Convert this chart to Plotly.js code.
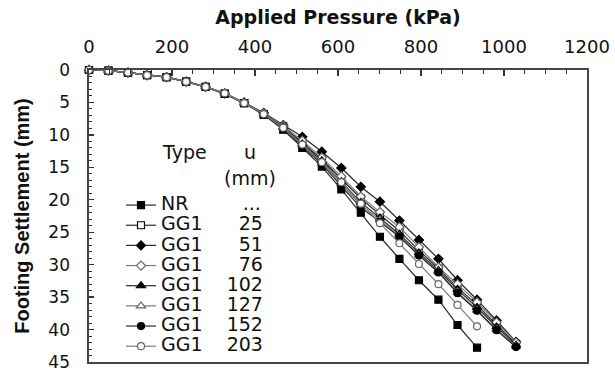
<!DOCTYPE html>
<html>
<head>
<meta charset="utf-8">
<script src="https://cdn.plot.ly/plotly-3.0.1.min.js"></script>
<style>
html,body{margin:0;padding:0;background:#fff;}
#chart{width:615px;height:368px;}
</style>
</head>
<body>
<div id="chart"></div>
<script>
// Applied pressure at each load step (kPa)
var pressure = [0, 47, 94, 140, 187, 234, 281, 327, 374, 421, 468, 514, 561, 608, 655, 701, 748, 795, 842, 888, 935, 982, 1029];

// Footing settlement (mm)
var NR      = [0, 0.1, 0.4, 0.8, 1.1, 1.8, 2.6, 3.7, 5.1, 6.9, 9.2, 12.0, 14.9, 18.4, 22.0, 25.7, 29.1, 32.4, 35.4, 39.3, 42.8];
var GG1_25  = [0, 0.1, 0.4, 0.8, 1.1, 1.8, 2.6, 3.6, 5.1, 6.8, 8.7, 11.2, 13.8, 16.8, 19.8, 22.3, 24.8, 27.8, 30.6, 33.5, 36.2, 39.3, 42.2];
var GG1_51  = [0, 0.1, 0.4, 0.8, 1.1, 1.8, 2.6, 3.6, 5.0, 6.6, 8.5, 10.3, 12.6, 15.1, 18.0, 20.3, 23.2, 26.2, 29.1, 32.4, 35.4, 38.6, 41.9];
var GG1_76  = [0, 0.1, 0.4, 0.8, 1.1, 1.8, 2.6, 3.6, 5.0, 6.7, 8.6, 10.9, 13.5, 16.4, 19.5, 21.9, 24.2, 27.3, 30.4, 33.0, 35.8, 38.9, 42.0];
var GG1_102 = [0, 0.1, 0.4, 0.8, 1.1, 1.8, 2.6, 3.6, 5.1, 6.8, 8.8, 11.4, 14.0, 17.2, 20.4, 22.8, 25.3, 28.2, 30.9, 33.8, 36.6, 39.6, 42.4];
var GG1_127 = [0, 0.1, 0.4, 0.8, 1.1, 1.8, 2.6, 3.6, 5.1, 6.8, 8.9, 11.6, 14.3, 17.6, 20.8, 23.1, 25.6, 28.5, 31.1, 34.2, 37.0, 40.0, 42.6];
var GG1_152 = [0, 0.1, 0.4, 0.8, 1.1, 1.8, 2.6, 3.7, 5.1, 6.9, 8.9, 11.8, 14.5, 17.9, 21.2, 23.4, 25.7, 28.6, 31.2, 34.4, 37.1, 40.1, 42.7];
var GG1_203 = [0, 0.1, 0.4, 0.8, 1.1, 1.8, 2.6, 3.6, 5.1, 6.8, 8.9, 11.5, 14.2, 17.3, 20.6, 23.6, 26.7, 29.9, 33.0, 36.2, 39.5];

// Legend labels: type and top-layer spacing u (mm)
var seriesType = ["NR", "GG1", "GG1", "GG1", "GG1", "GG1", "GG1", "GG1"];
var seriesU    = ["...", "25", "51", "76", "102", "127", "152", "203"];

var seriesY = [NR, GG1_25, GG1_51, GG1_76, GG1_102, GG1_127, GG1_152, GG1_203];
var symbols = ["square", "square", "diamond", "diamond", "triangle-up", "triangle-up", "circle", "circle"];
var filled  = [true, false, true, false, true, false, true, false];

var NB = "\u00a0";
function pad(n){ var s=""; for(var i=0;i<n;i++) s+=NB; return s; }
function label(t, u){
  var gap;
  if (t === "NR") gap = pad(9);
  else if (u.length === 2) gap = pad(6);
  else gap = pad(4);
  return '<span style="font-size:19px">' + t + gap + u + '</span>';
}

var traces = seriesY.map(function(y, i){
  var dark = filled[i] || i === 1;
  return {
    x: pressure.slice(0, y.length),
    y: y,
    type: "scatter",
    mode: "lines+markers",
    name: label(seriesType[i], seriesU[i]),
    cliponaxis: false,
    line: {color: dark ? "#2a2a2a" : "#7a7a7a", width: 1.2},
    marker: {
      symbol: symbols[i],
      size: symbols[i] === "triangle-up" ? 8 : 7,
      color: filled[i] ? "#000" : "#fff",
      line: {color: filled[i] ? "#000" : (i === 1 ? "#000" : "#666"), width: 1.2}
    }
  };
});

var W = 615, H = 368, mL = 89, mR = 28, mT = 70, mB = 6;
var pw = W - mL - mR, ph = H - mT - mB;
function px(xp){ return (xp - mL) / pw; }
function py(yp){ return 1 - (yp - mT) / ph; }

var txtFont = {family: "DejaVu Sans", size: 19, color: "#111"};

var layout = {
  width: W, height: H,
  margin: {l: mL, r: mR, t: mT, b: mB},
  paper_bgcolor: "#fff",
  plot_bgcolor: "#fff",
  showlegend: true,
  legend: {
    x: px(121), y: py(190), xanchor: "left", yanchor: "top",
    bgcolor: "rgba(0,0,0,0)",
    font: {family: "DejaVu Sans", size: 13.2, color: "#111"},
    traceorder: "normal",
    itemclick: false
  },
  xaxis: {
    side: "top",
    range: [0, 1200],
    dtick: 200,
    tick0: 0,
    ticks: "inside",
    ticklen: 6,
    tickwidth: 1.3,
    tickcolor: "#333",
    minor: {dtick: 50, ticks: "inside", ticklen: 4, tickwidth: 1, tickcolor: "#333"},
    showline: true,
    linecolor: "#444",
    linewidth: 1.6,
    mirror: true,
    showgrid: false,
    zeroline: false,
    ticklabelstandoff: 8,
    ticklabeloverflow: "allow",
    tickfont: {family: "DejaVu Sans", size: 18, color: "#111"},
    title: {text: "Applied Pressure (kPa)", standoff: 6,
            font: {family: "DejaVu Sans", size: 19, color: "#111", weight: "bold"}}
  },
  yaxis: {
    range: [45, 0],
    dtick: 5,
    tick0: 0,
    ticks: "inside",
    ticklen: 5,
    tickwidth: 1.3,
    tickcolor: "#333",
    minor: {dtick: 1, ticks: "inside", ticklen: 3, tickwidth: 1, tickcolor: "#333"},
    showline: true,
    linecolor: "#444",
    linewidth: 1.6,
    mirror: true,
    showgrid: false,
    zeroline: false,
    ticklabelstandoff: 14,
    ticklabeloverflow: "allow",
    tickfont: {family: "DejaVu Sans", size: 17, color: "#111"},
    title: {text: "Footing Settlement (mm)", standoff: 13,
            font: {family: "Liberation Sans", size: 20, color: "#111", weight: "bold"}}
  },
  annotations: [
    {xref: "paper", yref: "paper", x: px(184), y: py(152), text: "Type", showarrow: false,
     xanchor: "center", yanchor: "middle", font: txtFont},
    {xref: "paper", yref: "paper", x: px(250), y: py(152), text: "u", showarrow: false,
     xanchor: "center", yanchor: "middle", font: txtFont},
    {xref: "paper", yref: "paper", x: px(250), y: py(178), text: "(mm)", showarrow: false,
     xanchor: "center", yanchor: "middle", font: txtFont}
  ]
};

Plotly.newPlot("chart", traces, layout, {staticPlot: true, displayModeBar: false});
</script>
</body>
</html>
